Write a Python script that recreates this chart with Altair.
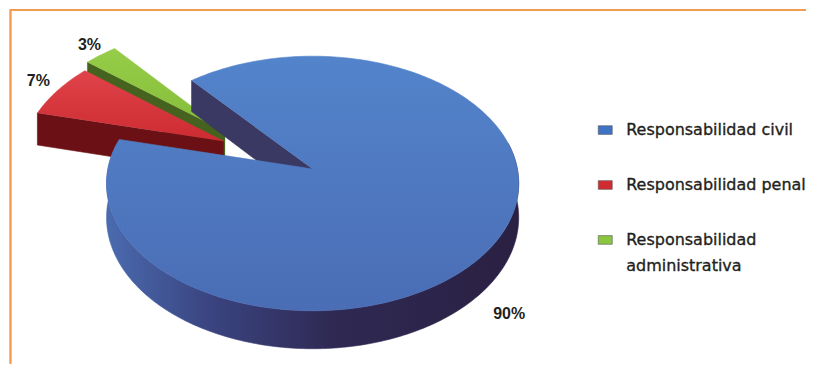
import math
import numpy as np
import pandas as pd
import altair as alt

# ---------------- data ----------------
categories = ["Responsabilidad civil", "Responsabilidad penal", "Responsabilidad administrativa"]
legend_labels = ["Responsabilidad civil", "Responsabilidad penal", "Responsabilidad\nadministrativa"]
values = [90, 7, 3]
pct_labels = ["90%", "7%", "3%"]

# ---------------- style ----------------
W, H = 799, 355            # view size; page offset is 8px
OX, OY = 8, 8
CX, CY = 313, 168          # pie centre (page px)
RX, RY = 205, 125.8        # ellipse radii
PERSP = 0.1136             # perspective strength
DEPTH = 33.7               # pie thickness
START = 130                # angle (deg) where the first slice starts, going clockwise
EXPLODE = [0.0, 0.50, 0.54]
EXPLODE_ANGLE = [0, 153, 145]
DRAW_ORDER = [2, 1, 0]
LABEL_K = 1.15
LABEL_NUDGE = [(-18, 27), (4, -2), (6, 1)]

def grad_v(c0, c1):
    return alt.Gradient(gradient="linear", x1=0, y1=0, x2=0, y2=1,
                        stops=[alt.GradientStop(color=c0, offset=0), alt.GradientStop(color=c1, offset=1)])

def grad_h(stops):
    return alt.Gradient(gradient="linear", x1=0, y1=0, x2=1, y2=0,
                        stops=[alt.GradientStop(color=c, offset=o) for o, c in stops])

TOP_FILL = [grad_v("#5384cb", "#4a6db5"), grad_v("#e0434a", "#cc2b31"), grad_v("#96cd48", "#84bc38")]
FACE_FILL = ["#393963", "#6b1014", "#46621f"]
WALL_FILL = [grad_h([(0, "#4a6baf"), (0.25, "#3a4480"), (0.55, "#2f2953"), (1, "#2a2042")]), "#6b1014", "#46621f"]
LEGEND_COLORS = ["#3f73c4", "#d22a31", "#8cc540"]
ORANGE = "#f39a4e"
TEXT = "#231f20"

# ---------------- geometry from values ----------------
def proj(X, Z, h=0.0):
    f = 1.0 / (1.0 + PERSP * Z)
    return CX + RX * X * f, CY - RY * Z * f + h * DEPTH * f

total = sum(values)
spans = []
hi = START
for v in values:
    lo = hi - 360.0 * v / total
    spans.append((lo, hi))
    hi = lo
spans = [(lo + 360, hi + 360) if hi < 0 else (lo, hi) for lo, hi in spans]

rows = []
labels_rows = []
pieces = []

def add_poly(pts, fill):
    pid = len(pieces)
    for i, (x, y) in enumerate(pts):
        rows.append({"piece": pid, "i": i, "x": x, "y": y})
    pieces.append((pid, fill))

for s in DRAW_ORDER:
    lo, hi = spans[s]
    e = EXPLODE[s]
    ea = math.radians(EXPLODE_ANGLE[s])
    vx, vz = e * math.cos(ea), e * math.sin(ea)

    def rim(t, h=0.0):
        r = math.radians(t)
        return proj(vx + math.cos(r), vz + math.sin(r), h)

    for t, vis in ((hi, math.cos(math.radians(hi)) < 0), (lo, math.cos(math.radians(lo)) > 0)):
        if vis:
            add_poly([proj(vx, vz), rim(t), rim(t, 1), proj(vx, vz, 1)], FACE_FILL[s])
    for shift in (0, -360):
        a = max(lo, 168 + shift)
        b = min(hi, 372 + shift)
        if b > a:
            ts = np.linspace(a, b, int(b - a) + 2)
            pts = [rim(t) for t in ts] + [rim(t, 1) for t in ts[::-1]]
            add_poly(pts, WALL_FILL[s])
    ts = np.linspace(lo, hi, int(hi - lo) + 2)
    add_poly([proj(vx, vz)] + [rim(t) for t in ts], TOP_FILL[s])

for s in range(len(values)):
    lo, hi = spans[s]
    m = math.radians((lo + hi) / 2)
    e = EXPLODE[s]
    ea = math.radians(EXPLODE_ANGLE[s])
    vx, vz = e * math.cos(ea), e * math.sin(ea)
    front = 1.0 if math.sin(m) < 0 else 0.0
    x, y = proj(vx + LABEL_K * math.cos(m), vz + LABEL_K * math.sin(m), front)
    labels_rows.append({"label": pct_labels[s], "x": x + LABEL_NUDGE[s][0], "y": y + LABEL_NUDGE[s][1]})

poly = pd.DataFrame(rows)
lab = pd.DataFrame(labels_rows)

xs = alt.Scale(domain=[OX, OX + W], nice=False, zero=False)
ys = alt.Scale(domain=[OY + H, OY], nice=False, zero=False)

layers = []
for pid, fill in pieces:
    layers.append(
        alt.Chart(poly).transform_filter(alt.datum.piece == pid)
        .mark_line(filled=True, color=fill, strokeWidth=0.6, stroke=fill)
        .encode(x=alt.X("x:Q", scale=xs, axis=None),
                y=alt.Y("y:Q", scale=ys, axis=None),
                order=alt.Order("i:Q"))
    )

layers.append(
    alt.Chart(lab).mark_text(font="Liberation Sans", fontSize=16, fontWeight="bold", color=TEXT,
                             align="center", baseline="middle")
    .encode(x=alt.X("x:Q", scale=xs, axis=None), y=alt.Y("y:Q", scale=ys, axis=None), text="label:N")
)

# legend
LEG_X_SYM, LEG_X_TXT, LEG_Y0, LEG_STEP = 606, 627, 129, 55
leg = pd.DataFrame({
    "cat": categories,
    "label": legend_labels,
    "x": [LEG_X_SYM] * 3,
    "xt": [LEG_X_TXT] * 3,
    "y": [LEG_Y0 + LEG_STEP * i for i in range(3)],
})
layers.append(
    alt.Chart(leg).mark_point(filled=True, shape="M-1,-0.62L1,-0.62L1,0.62L-1,0.62Z", size=196,
                              opacity=1, strokeWidth=0.6, stroke="#555")
    .encode(x=alt.X("x:Q", scale=xs, axis=None), y=alt.Y("y:Q", scale=ys, axis=None),
            color=alt.Color("cat:N", scale=alt.Scale(domain=categories, range=LEGEND_COLORS), legend=None))
)
layers.append(
    alt.Chart(leg).mark_text(font="DejaVu Sans", fontSize=16, color=TEXT, align="left",
                             baseline="middle", lineBreak="\n", lineHeight=26,
                             stroke=TEXT, strokeWidth=0.35)
    .encode(x=alt.X("xt:Q", scale=xs, axis=None), y=alt.Y("y:Q", scale=ys, axis=None), text="label:N")
)

# orange frame
layers.append(alt.Chart(leg).mark_rule(color=ORANGE, strokeWidth=1.6)
              .encode(x=alt.value(2.5), y=alt.value(0), y2=alt.value(H)))
layers.append(alt.Chart(leg).mark_rule(color=ORANGE, strokeWidth=1.6)
              .encode(x=alt.value(2.5), x2=alt.value(W), y=alt.value(0.8)))

chart = alt.layer(*layers).properties(width=W, height=H, padding=0, background="white").configure_view(stroke=None)
chart.save("out.html", embed_options={"renderer": "svg", "actions": False})
